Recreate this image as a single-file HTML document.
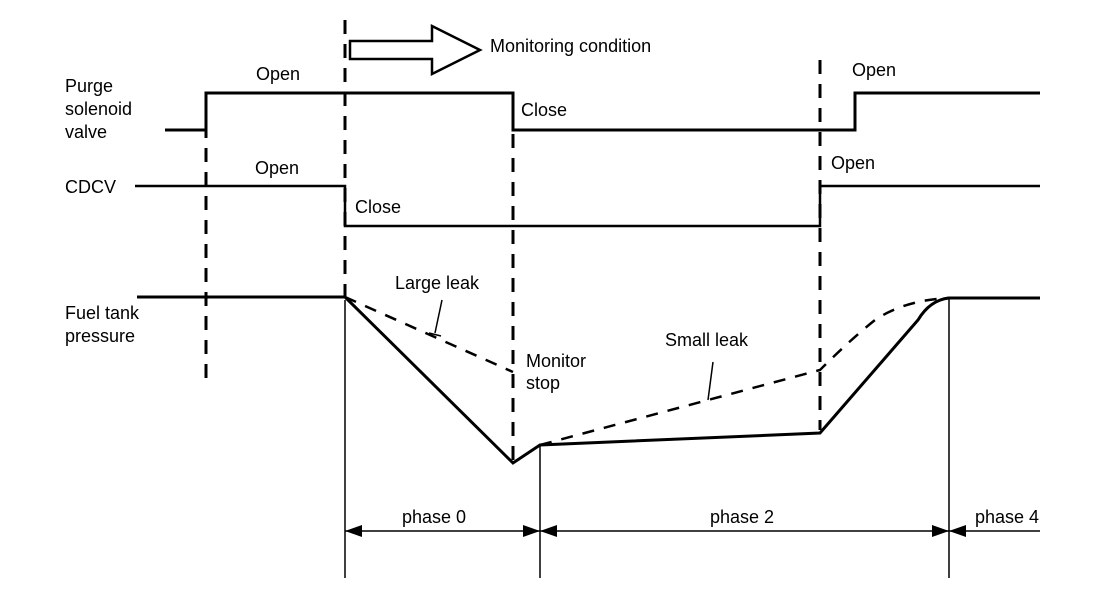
<!DOCTYPE html>
<html><head><style>
html,body{margin:0;padding:0;background:#fff;}
svg{display:block;}
text{font-family:"Liberation Sans",sans-serif;font-size:18px;fill:#000;}
</style></head><body>
<svg width="1120" height="602" viewBox="0 0 1120 602" xmlns="http://www.w3.org/2000/svg">
<g stroke="#000" fill="none">
<g stroke-width="3" stroke-dasharray="14,10">
<line x1="206" y1="100" x2="206" y2="385"/>
<line x1="345" y1="20" x2="345" y2="300"/>
<line x1="513" y1="110" x2="513" y2="460"/>
<line x1="820" y1="60" x2="820" y2="430"/>
</g>
<g stroke-width="1.5">
<line x1="345" y1="300" x2="345" y2="578"/>
<line x1="540" y1="445" x2="540" y2="578"/>
<line x1="949" y1="298" x2="949" y2="578"/>
</g>
<polyline stroke-width="3" points="165,130 206,130 206,93 513,93 513,130 855,130 855,93 1040,93"/>
<polyline stroke-width="2.5" points="135,186 345,186 345,226 820,226 820,186 1040,186"/>
<path stroke-width="3" d="M137,297 H345 L513,463 L540,445 L820,433 L918,320 Q930,300 949,298 H1040"/>
<g stroke-width="2.5" stroke-dasharray="12,10">
<path d="M345,297 L513,372"/>
<path d="M540,445 L820,370 Q850,340 875,320 Q905,300 949,298"/>
</g>
<g stroke-width="1.5">
<line x1="442" y1="300" x2="435" y2="333"/>
<line x1="429" y1="333" x2="441" y2="336"/>
<line x1="713" y1="362" x2="708" y2="400"/>
</g>
<path stroke-width="2.5" fill="#fff" d="M350,41 H432 V26 L480,50 L432,74 V59 H350 Z"/>
<line x1="345" y1="531" x2="1040" y2="531" stroke-width="1.5"/>
</g>
<g fill="#000">
<polygon points="345,531 362,525 362,537"/>
<polygon points="540,531 523,525 523,537"/>
<polygon points="540,531 557,525 557,537"/>
<polygon points="949,531 932,525 932,537"/>
<polygon points="949,531 966,525 966,537"/>
</g>
<text x="65" y="92">Purge</text>
<text x="65" y="115">solenoid</text>
<text x="65" y="138">valve</text>
<text x="65" y="193">CDCV</text>
<text x="65" y="319">Fuel tank</text>
<text x="65" y="342">pressure</text>
<text x="256" y="80">Open</text>
<text x="255" y="174">Open</text>
<text x="355" y="213">Close</text>
<text x="521" y="116">Close</text>
<text x="852" y="76">Open</text>
<text x="831" y="169">Open</text>
<text x="490" y="52">Monitoring condition</text>
<text x="395" y="289">Large leak</text>
<text x="526" y="367">Monitor</text>
<text x="526" y="389">stop</text>
<text x="665" y="346">Small leak</text>
<text x="402" y="523">phase 0</text>
<text x="710" y="523">phase 2</text>
<text x="975" y="523">phase 4</text>
</svg>
</body></html>
